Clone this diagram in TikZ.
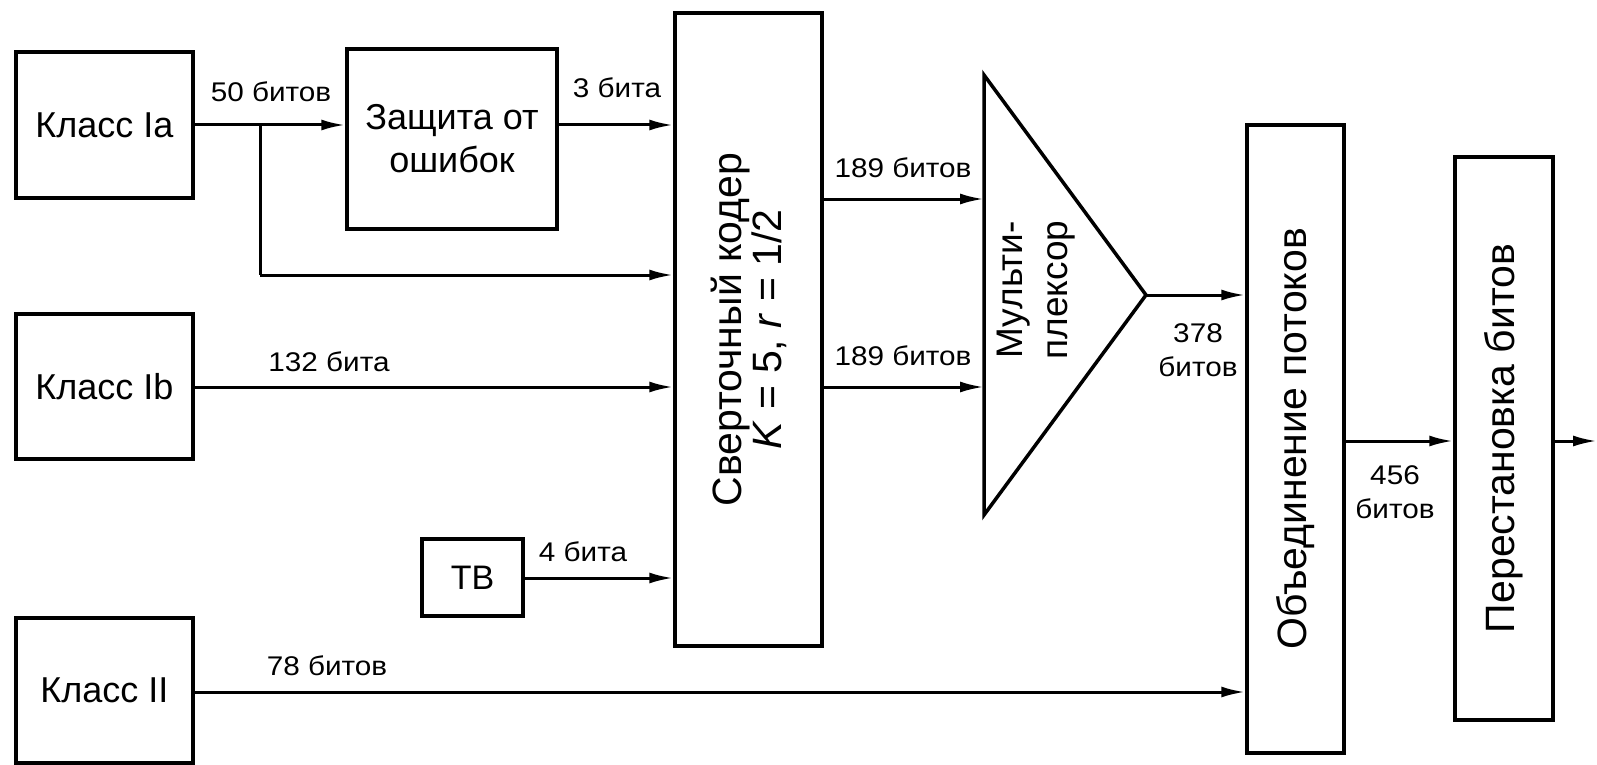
\documentclass[tikz,border=0pt]{standalone}
\usepackage{fontspec}
\setmainfont{Liberation Sans}
\usetikzlibrary{arrows.meta}
\begin{document}
\begin{tikzpicture}[x=1pt,y=-1pt,
  box/.style={draw,line width=3.5pt,inner sep=0pt,font=\fontsize{36}{43}\selectfont,align=center},
  vbox/.style={draw,line width=3.5pt,inner sep=0pt},
  vtext/.style={rotate=90,align=center,font=\fontsize{41}{40}\selectfont},
  lbl/.style={font=\fontsize{27}{34}\selectfont,align=center,inner sep=0pt,xscale=1.1},
  arr/.style={line width=3pt,-{Latex[length=24pt,width=11pt]}},
  ln/.style={line width=3pt}]
\useasboundingbox (0,0) rectangle (1597,765);
% boxes
\node[box,minimum width=177pt,minimum height=146pt] (ia) at (104.5,125) {Класс Ia};
\node[box,minimum width=177pt,minimum height=145pt] (ib) at (104.5,386.5) {Класс Ib};
\node[box,minimum width=177pt,minimum height=145pt] (ii) at (104.5,690.5) {Класс II};
\node[box,minimum width=210pt,minimum height=180pt] (zash) at (452,139) {Защита от\\ошибок};
\node[box,minimum width=101pt,minimum height=77pt,font=\fontsize{34}{40}\selectfont] (tv) at (472.5,577.5) {ТВ};
\node[vbox,minimum width=147pt,minimum height=633pt] (coder) at (748.5,329.5) {};
\node[vtext] at (coder.center) {Сверточный кодер\\\textit{K} = 5, \textit{r} = 1/2};
\node[vbox,minimum width=97pt,minimum height=628pt] (merge) at (1295.5,439) {};
\node[vtext] at (merge.center) {Объединение потоков};
\node[vbox,minimum width=98pt,minimum height=563pt] (perm) at (1504,438.5) {};
\node[vtext] at (perm.center) {Перестановка битов};
% multiplexer
\coordinate (m1) at (984,75);
\coordinate (m2) at (1146,295);
\coordinate (m3) at (984,515);
\draw[line width=3.5pt,line join=miter] (m1) -- (m2) -- (m3) -- cycle;
\node[vtext,font=\fontsize{37}{45}\selectfont] (muxt) at (1036,290) {Мульти-\\плексор};
% connectors
\coordinate (br) at (260,125);
\coordinate (brd) at (260,275);
\draw[arr] (ia.east) -- (zash.west |- ia.east);
\draw[arr] (zash.east |- ia.east) -- (coder.west |- ia.east);
\draw[ln] (br) -- (brd);
\draw[arr] (brd) -- (coder.west |- brd);
\draw[arr] (ib.east |- 0,387) coordinate (ibo) -- (coder.west |- ibo);
\draw[arr] (tv.east |- 0,578) coordinate (tvo) -- (coder.west |- tvo);
\draw[arr] (ii.east |- 0,692) coordinate (iio) -- (merge.west |- iio);
\draw[arr] (coder.east |- 0,199) coordinate (c1) -- (m1 |- c1);
\draw[arr] (coder.east |- 0,387) coordinate (c2) -- (m1 |- c2);
\draw[arr] (m2) -- (merge.west |- m2);
\draw[arr] (merge.east |- 0,441) coordinate (mo) -- (perm.west |- mo);
\coordinate (out) at (1597,441);
\draw[arr] (perm.east |- out) -- (out);
% labels
\node[lbl] at (271,92) {50 битов};
\node[lbl] at (617,88) {3 бита};
\node[lbl] at (329,362) {132 бита};
\node[lbl] at (583,552) {4 бита};
\node[lbl] at (327,666) {78 битов};
\node[lbl] at (903,168) {189 битов};
\node[lbl] at (903,356) {189 битов};
\node[lbl] at (1198,350) {378\\битов};
\node[lbl] at (1395,492) {456\\битов};
\end{tikzpicture}
\end{document}
